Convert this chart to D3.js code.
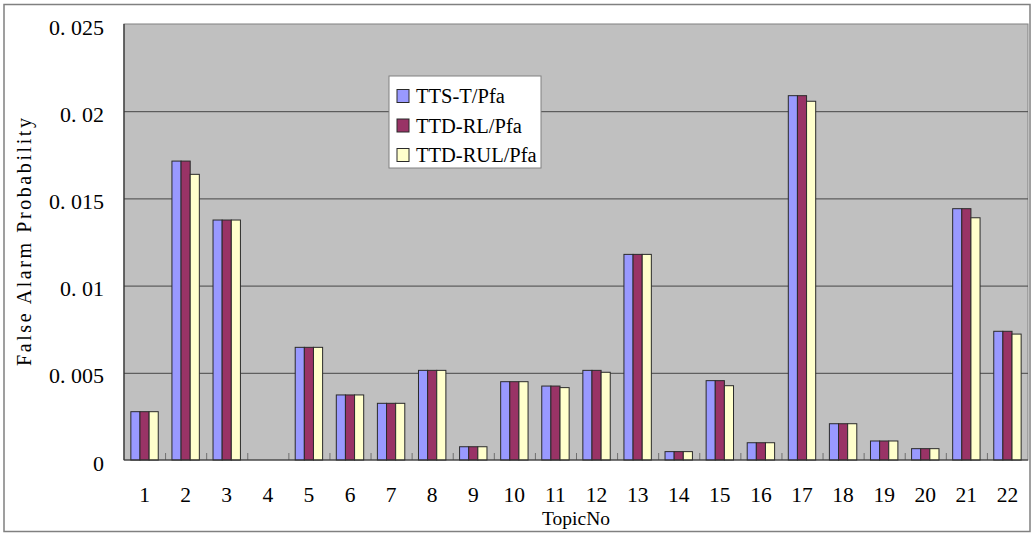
<!DOCTYPE html>
<html>
<head>
<meta charset="utf-8">
<script src="https://cdn.jsdelivr.net/npm/d3@7"></script>
<style>
  html, body { margin: 0; padding: 0; background: #ffffff; }
  svg { display: block; }
</style>
</head>
<body>
<svg id="chart" width="1034" height="536"></svg>
<script>
// Category labels along the x axis
const topics = ["1","2","3","4","5","6","7","8","9","10","11","12","13","14","15","16","17","18","19","20","21","22"];

// Series names (legend order)
const seriesNames = ["TTS-T/Pfa", "TTD-RL/Pfa", "TTD-RUL/Pfa"];

// False alarm probability per topic, one array per series
const ttsT   = [0.00277, 0.01714, 0.01376, 0, 0.00646, 0.00373, 0.00325, 0.00514, 0.00076, 0.00449, 0.00424, 0.00514, 0.01179, 0.00048, 0.00455, 0.00099, 0.02089, 0.00208, 0.00109, 0.00065, 0.01441, 0.00738];
const ttdRL  = [0.00277, 0.01714, 0.01376, 0, 0.00646, 0.00373, 0.00325, 0.00514, 0.00076, 0.00449, 0.00424, 0.00514, 0.01179, 0.00048, 0.00455, 0.00099, 0.02089, 0.00208, 0.00109, 0.00065, 0.01441, 0.00738];
const ttdRUL = [0.00277, 0.01638, 0.01376, 0, 0.00646, 0.00373, 0.00325, 0.00514, 0.00076, 0.00449, 0.00415, 0.00503, 0.01179, 0.00048, 0.00426, 0.00099, 0.02057, 0.00208, 0.00109, 0.00065, 0.01389, 0.00722];

// Y axis tick values and their printed labels
const yTicks = [0, 0.005, 0.01, 0.015, 0.02, 0.025];
const yTickLabels = ["0", "0. 005", "0. 01", "0. 015", "0. 02", "0. 025"];

const seriesValues = [ttsT, ttdRL, ttdRUL];
const seriesColors = ["#9999ff", "#993366", "#ffffcc"];

const FONT = "'Liberation Serif', 'DejaVu Serif', serif";

const svg = d3.select("#chart");
const W = 1034, H = 536;
const plot = { left: 124, top: 24, right: 1028, bottom: 460 };

// Outer chart frame
svg.append("rect")
  .attr("x", 4).attr("y", 4.5).attr("width", W - 8).attr("height", H - 9)
  .attr("fill", "#ffffff").attr("stroke", "#808080").attr("stroke-width", 1.5);

// Plot background
svg.append("rect")
  .attr("x", plot.left).attr("y", plot.top)
  .attr("width", plot.right - plot.left).attr("height", plot.bottom - plot.top)
  .attr("fill", "#c0c0c0").attr("stroke", "#808080").attr("stroke-width", 1);

const y = d3.scaleLinear().domain([0, 0.025]).range([plot.bottom, plot.top]);
const x = d3.scaleBand().domain(topics).range([plot.left, plot.right]);
const xs = d3.scaleBand().domain(seriesNames).range([0, x.bandwidth()]).paddingOuter(0.75);

// Horizontal gridlines + y tick labels
const yAxis = svg.append("g")
  .attr("transform", `translate(${plot.left},0)`)
  .call(d3.axisLeft(y).tickValues(yTicks).tickSize(-(plot.right - plot.left))
    .tickFormat((d, i) => yTickLabels[i]));
yAxis.select(".domain").remove();
yAxis.selectAll(".tick line").attr("stroke", "#464646").attr("stroke-width", 1)
  .filter(d => d === 0 || d === 0.025).remove();
yAxis.selectAll(".tick text")
  .attr("x", -20).attr("dy", null).attr("y", 10)
  .attr("text-anchor", "end")
  .attr("fill", "#000").attr("font-family", FONT).attr("font-size", 22);

// Bars
const groups = svg.append("g").selectAll("g")
  .data(seriesNames)
  .join("g")
  .attr("fill", (d, i) => seriesColors[i]);

groups.selectAll("rect")
  .data((name, si) => topics.map((t, ti) => ({ topic: t, name, value: seriesValues[si][ti] })))
  .join("rect")
  .filter(d => d.value > 0)
  .attr("x", d => x(d.topic) + xs(d.name))
  .attr("y", d => y(d.value))
  .attr("width", xs.bandwidth())
  .attr("height", d => y(0) - y(d.value))
  .attr("stroke", "#2a2a2a")
  .attr("stroke-width", 1);

// Category separator ticks on the baseline (pointing into the plot)
const sep = d3.scaleLinear().domain([0, topics.length]).range([plot.left, plot.right]);
const sepAxis = svg.append("g")
  .attr("transform", `translate(0,${plot.bottom})`)
  .call(d3.axisBottom(sep).tickValues(d3.range(1, topics.length)).tickSize(-7).tickFormat(""));
sepAxis.select(".domain").remove();
sepAxis.selectAll(".tick line").attr("stroke", "#707070");

// Category labels
const xAxis = svg.append("g")
  .attr("transform", `translate(0,${plot.bottom})`)
  .call(d3.axisBottom(x).tickSize(0));
xAxis.select(".domain").remove();
xAxis.selectAll(".tick text")
  .attr("y", 42).attr("dy", null)
  .attr("fill", "#000").attr("font-family", FONT).attr("font-size", 21.5);

// Axis lines
svg.append("line")
  .attr("x1", plot.left).attr("x2", plot.right).attr("y1", plot.bottom).attr("y2", plot.bottom)
  .attr("stroke", "#303030").attr("stroke-width", 1.2);
svg.append("line")
  .attr("x1", plot.left).attr("x2", plot.left).attr("y1", plot.top).attr("y2", plot.bottom)
  .attr("stroke", "#303030").attr("stroke-width", 1.2);

// Axis titles
svg.append("text")
  .attr("x", (plot.left + plot.right) / 2).attr("y", 525)
  .attr("text-anchor", "middle")
  .attr("font-family", FONT).attr("font-size", 19.5).attr("fill", "#000")
  .text("TopicNo");

svg.append("text")
  .attr("transform", `translate(31,${(plot.top + plot.bottom) / 2}) rotate(-90)`)
  .attr("text-anchor", "middle")
  .attr("textLength", 248).attr("lengthAdjust", "spacing")
  .attr("font-family", FONT).attr("font-size", 20).attr("fill", "#000")
  .text("False Alarm Probability");

// Legend
const legend = svg.append("g").attr("transform", "translate(389,76)");
legend.append("rect")
  .attr("width", 152).attr("height", 92)
  .attr("fill", "#ffffff").attr("stroke", "#808080").attr("stroke-width", 1);
const items = legend.selectAll("g.item")
  .data(seriesNames)
  .join("g")
  .attr("class", "item")
  .attr("transform", (d, i) => `translate(0,${20 + i * 29.5})`);
items.append("rect")
  .attr("x", 8).attr("y", -6.5).attr("width", 12).attr("height", 13)
  .attr("fill", (d, i) => seriesColors[i])
  .attr("stroke", "#2a2a2a").attr("stroke-width", 1);
items.append("text")
  .attr("x", 27).attr("y", 7)
  .attr("font-family", FONT).attr("font-size", 20.5).attr("fill", "#000")
  .text(d => d);
</script>
</body>
</html>
